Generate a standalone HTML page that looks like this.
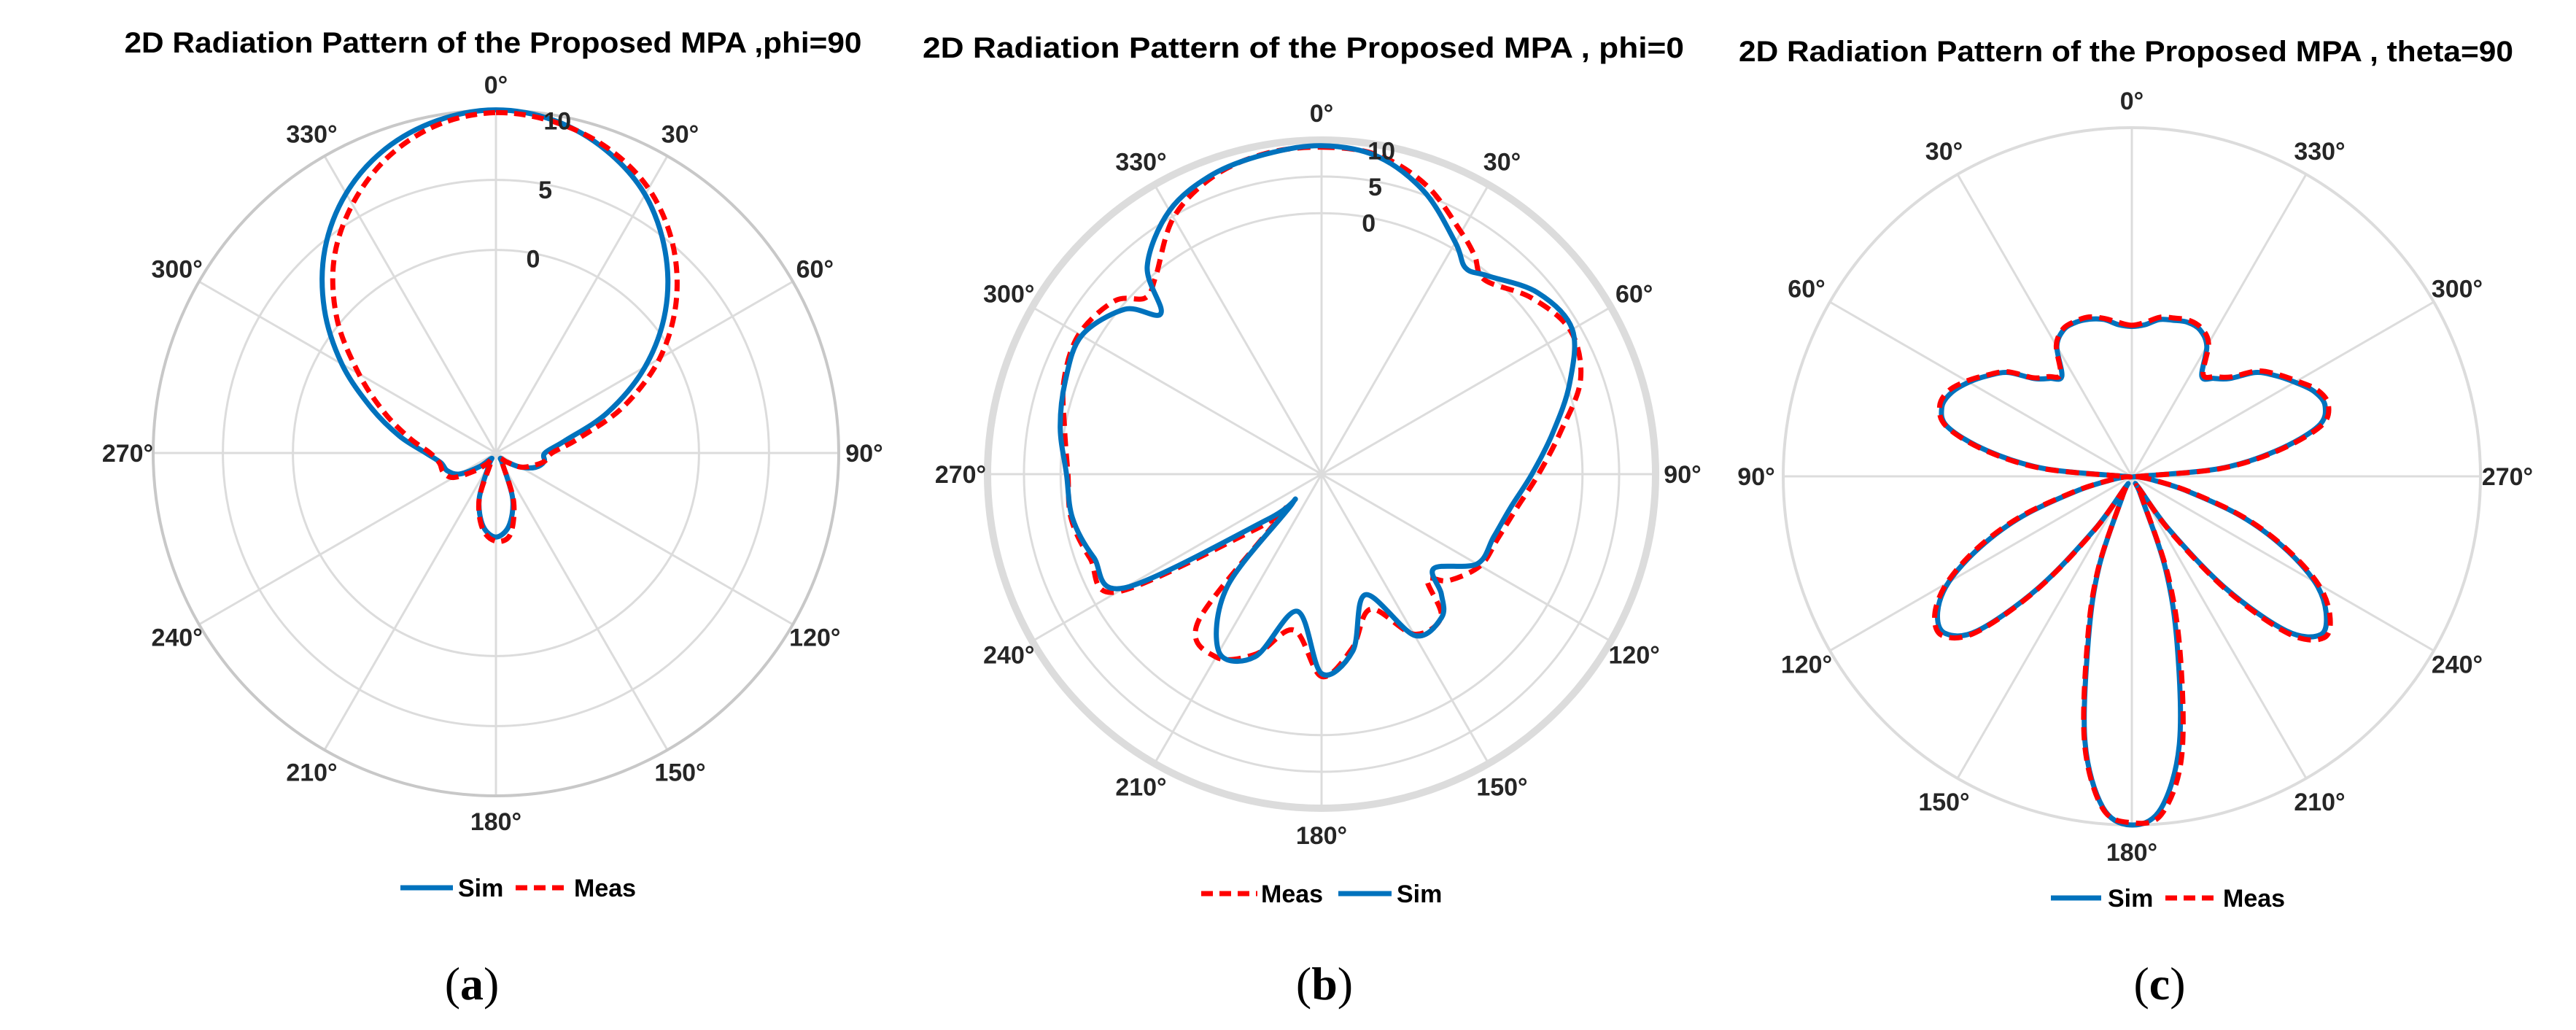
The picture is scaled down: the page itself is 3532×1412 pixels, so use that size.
<!DOCTYPE html>
<html><head><meta charset="utf-8"><style>
html,body{margin:0;padding:0;background:#fff;}
svg{display:block;}
text{font-family:"Liberation Sans",Arial,sans-serif;}
text.cap{font-family:"Liberation Serif","Times New Roman",serif;}
</style></head>
<body>
<svg id="fig" width="3532" height="1412" viewBox="0 0 3532 1412" xmlns="http://www.w3.org/2000/svg">
<g id="pa"></g>
<g id="pb"></g>
<g id="pc"></g>
</svg>
<script>
// ---- Panel (a) data: angle (deg, clockwise from top), gain dB ----
const A_ANG = [0,10,20,30,40,50,60,70,80,90,100,110,120,130,140,150,160,170,180,190,200,210,220,230,240,250,260,270,280,290,300,310,320,330,340,350];
const A_SIM = [10,9.6,8.5,6.8,4.3,1.3,-2.2,-6,-9.5,-11,-11,-11.5,-12.5,-13.5,-14,-13.5,-11,-9.2,-8.5,-9.2,-11,-13.5,-14,-13,-11.5,-10.8,-10.5,-9.5,-7.5,-5,-1.8,1.5,4.5,6.9,8.6,9.6];
const A_MEAS = [9.8,9.5,8.7,7.3,5.1,2.3,-1,-4.8,-8.5,-10.5,-11,-11.8,-12.5,-13.5,-14,-13.5,-10.8,-8.6,-8.2,-9,-11,-13.8,-13.5,-12.5,-11,-10.5,-10.4,-9.8,-8.2,-6,-3.2,0.3,3.5,6,8,9.3];
const A_RTICKS = [0,5];
const A_RLABELS = ["0","5","10"];
// ---- Panel (b) data ----
const B_ANG = [0,10,20,30,35,40,50,60,70,80,90,100,110,120,130,135,140,150,160,170,180,190,200,210,220,225,230,240,250,260,270,280,290,300,310,315,320,330,340,350];
const B_SIM = [9.2,8.4,5.4,0.9,-1.3,-0.3,2.9,3.9,0.4,-3.6,-6.9,-9.4,-10.6,-11.1,-15.6,-12.5,-10.1,-10.2,-18.1,-11.1,-8.4,-16.6,-9.1,-7.6,-15.6,-30,-26,-4.6,-2.5,-1.1,-0.8,0.6,1.6,2.2,-0.6,-4.6,1.4,5.9,7.9,8.7];
const B_MEAS = [9.0,8.6,6.3,2.5,0.8,-1.0,1.8,3.6,2.0,-2.5,-6.0,-8.6,-10.0,-10.6,-13.0,-15.2,-10.2,-10.4,-16.0,-11.5,-8.0,-14,-9.5,-6.8,-9.5,-28,-24,-3.5,-2.0,-0.9,-1.0,0.0,1.8,2.6,1.2,-1.6,-0.4,4.8,7.6,8.8];
const B_RTICKS = [0,5];
const B_RLABELS = ["0","5","10"];
// ---- Panel (c) data: angle counter-clockwise from top ----
const C_ANG = [0,5,10,15,20,25,30,35,40,45,50,55,60,65,70,75,80,85,90,95,100,105,110,115,120,125,130,135,140,145,150,155,160,165,170,175,180,185,190,195,200,205,210,215,220,225,230,235,240,245,250,255,260,265,270,275,280,285,290,295,300,305,310,315,320,325,330,335,340,345,350,355];
const C_SIM = [-17.1,-16.9,-16.3,-16.0,-15.9,-16.1,-17.1,-19.5,-19.0,-18.1,-16.1,-14.9,-13.8,-12.9,-12.6,-13.6,-17.4,-22.5,-29.4,-29.4,-28.1,-25,-20,-15.6,-11.8,-9.6,-9,-11.2,-17.4,-24.4,-29,-28.1,-21.8,-15.6,-6.8,-1.4,0,-1.3,-6.5,-14.9,-21.5,-28.1,-29,-24.4,-17.4,-11.2,-8.8,-9.6,-11.8,-15.6,-20,-25,-28.1,-29.4,-29.4,-22.5,-17.4,-13.4,-12.3,-12.7,-13.8,-14.9,-16.1,-18.1,-19,-19.5,-17.1,-16.1,-15.9,-16.1,-16.3,-16.9];
const C_MEAS = [-17.0,-16.7,-16.2,-15.8,-15.8,-16.0,-17.0,-19.3,-18.8,-18.0,-16.0,-14.8,-13.6,-12.6,-12.4,-13.5,-17.2,-22.3,-29.3,-29.3,-28.0,-24.8,-19.7,-15.3,-11.6,-9.3,-8.7,-11.0,-17.2,-24.2,-28.9,-28.0,-21.5,-15.2,-6.6,-1.3,-0.2,-0.8,-5.4,-13.8,-20.8,-27.8,-28.8,-24.0,-17.0,-10.8,-8.4,-9.2,-11.5,-15.4,-19.8,-24.8,-28.0,-29.3,-29.3,-22.3,-17.2,-13.1,-12.0,-12.4,-13.6,-14.7,-15.9,-17.9,-18.8,-19.3,-16.8,-15.9,-15.7,-15.9,-16.1,-16.7];
const ANG_TICKS = [0,30,60,90,120,150,180,210,240,270,300,330];

const NS = "http://www.w3.org/2000/svg";
function mk(parent, tag, attrs, txt){
  const el = document.createElementNS(NS, tag);
  for (const k in attrs) el.setAttribute(k, attrs[k]);
  if (txt !== undefined) el.textContent = txt;
  parent.appendChild(el);
  return el;
}
function polarXY(p, ang, r){
  const t = ang*Math.PI/180;
  const s = p.ccw ? -1 : 1;
  return [p.cx + s*r*Math.sin(t), p.cy - r*Math.cos(t)];
}
function pathFrom(p, angs, vals){
  const pts = angs.map((a,i)=>polarXY(p, a, Math.max(0, p.rs(vals[i]))));
  const n = pts.length;
  let d = "M"+pts[0][0].toFixed(1)+","+pts[0][1].toFixed(1);
  for (let i=0;i<n;i++){
    const p0=pts[(i-1+n)%n], p1=pts[i], p2=pts[(i+1)%n], p3=pts[(i+2)%n];
    const c1=[p1[0]+(p2[0]-p0[0])/6, p1[1]+(p2[1]-p0[1])/6];
    const c2=[p2[0]-(p3[0]-p1[0])/6, p2[1]-(p3[1]-p1[1])/6];
    d += " C"+c1[0].toFixed(1)+","+c1[1].toFixed(1)+" "+c2[0].toFixed(1)+","+c2[1].toFixed(1)+" "+p2[0].toFixed(1)+","+p2[1].toFixed(1);
  }
  return d+"Z";
}
function drawPanel(g, p){
  const t = mk(g,"text",{x:p.title[1],y:p.title[2],"font-size":40,"font-weight":"bold",fill:"#000","text-anchor":"middle",textLength:p.title[3],lengthAdjust:"spacingAndGlyphs"},p.title[0]);
  
  
  ANG_TICKS.forEach(a=>{
    const e = polarXY(p,a,p.R);
    const l = mk(g,"line",{x1:p.cx,y1:p.cy,x2:e[0],y2:e[1],stroke:"#dcdcdc","stroke-width":3});
    
    
  });
  p.rticks.forEach(v=>{
    const c = mk(g,"circle",{cx:p.cx,cy:p.cy,r:p.rs(v),fill:"none",stroke:"#dcdcdc","stroke-width":3});
    
    
  });
  const oc = mk(g,"circle",{cx:p.cx,cy:p.cy,r:p.R,fill:"none",stroke:p.outerCol,"stroke-width":p.outerW});
  
  
  ANG_TICKS.forEach(a=>{
    const q = polarXY(p,a,p.labR);
    const tl = mk(g,"text",{x:q[0],y:q[1]+12,"font-size":34,"font-weight":"bold",fill:"#262626","text-anchor":"middle"},a+"°");
    
    
  });
  p.series.forEach(s=>{
    const attrs = {d:pathFrom(p,p.ang,s.vals),fill:"none",stroke:s.col,"stroke-width":s.w,"stroke-linejoin":"round"};
    if (s.dash) attrs["stroke-dasharray"]=s.dash;
    const ps = mk(g,"path",attrs);
    
    
  });
  if (p.rlabels){
    p.rlabels.forEach((lab,i)=>{
      const v = [0,5,10][i];
      const q = polarXY(p,10,p.rs(v)-8);
      const rl = mk(g,"text",{x:q[0]+4,y:q[1]+12,"font-size":34,"font-weight":"bold",fill:"#262626","text-anchor":"middle"},lab);
      
      
    });
  }
  p.legend.forEach(L=>{
    const la = {x1:L.x1,y1:p.legY,x2:L.x2,y2:p.legY,stroke:L.col,"stroke-width":7};
    if (L.dash) la["stroke-dasharray"]=L.dash;
    const ll = mk(g,"line",la);
    
    
    const lt = mk(g,"text",{x:L.tx,y:p.legY+12,"font-size":34,"font-weight":"bold",fill:"#000"},L.label);
    
    
  });
  const cap = mk(g,"text",{x:p.cap[1],y:p.cap[2],"font-size":64,fill:"#000","text-anchor":"middle","class":"cap"});
  
  
  mk(cap,"tspan",{},"(");
  mk(cap,"tspan",{"font-weight":"bold"},p.cap[0]);
  mk(cap,"tspan",{},")");
}
const BLUE="#0072BD", RED="#FF0000";
drawPanel(document.getElementById("pa"),{
  cx:680, cy:621, R:470, ccw:false, rs:v=>(v+14.5)*19.2, rticks:A_RTICKS, rlabels:A_RLABELS,
  outerCol:"#c8c8c8", outerW:4, labR:505, ang:A_ANG,
  title:["2D Radiation Pattern of the Proposed MPA ,phi=90",676,72,1011],
  series:[{name:"sim",vals:A_SIM,col:BLUE,w:7},{name:"meas",vals:A_MEAS,col:RED,w:7,dash:"16 9"}],
  legY:1217,
  legend:[{name:"sim",x1:549,x2:621,col:BLUE,tx:628,label:"Sim"},{name:"meas",x1:707,x2:779,col:RED,dash:"16 9",tx:787,label:"Meas"}],
  cap:["a",647,1370]
});
drawPanel(document.getElementById("pb"),{
  cx:1812, cy:650, R:458, ccw:false, rs:v=>(v+35.6)*10.05, rticks:B_RTICKS, rlabels:B_RLABELS,
  outerCol:"#dcdcdc", outerW:10, labR:495, ang:B_ANG,
  title:["2D Radiation Pattern of the Proposed MPA , phi=0",1787,79,1044],
  series:[{name:"meas",vals:B_MEAS,col:RED,w:7,dash:"18 10"},{name:"sim",vals:B_SIM,col:BLUE,w:7}],
  legY:1225,
  legend:[{name:"meas",x1:1647,x2:1724,col:RED,dash:"16 9",tx:1729,label:"Meas"},{name:"sim",x1:1835,x2:1908,col:BLUE,tx:1915,label:"Sim"}],
  cap:["b",1816,1370]
});
drawPanel(document.getElementById("pc"),{
  cx:2923, cy:653, R:478, ccw:true, rs:v=>(v+30)/30*478, rticks:[], rlabels:null,
  outerCol:"#dcdcdc", outerW:4, labR:515, ang:C_ANG,
  title:["2D Radiation Pattern of the Proposed MPA , theta=90",2915,84,1062],
  series:[{name:"sim",vals:C_SIM,col:BLUE,w:7},{name:"meas",vals:C_MEAS,col:RED,w:7,dash:"18 10"}],
  legY:1231,
  legend:[{name:"sim",x1:2812,x2:2881,col:BLUE,tx:2890,label:"Sim"},{name:"meas",x1:2969,x2:3042,col:RED,dash:"16 9",tx:3048,label:"Meas"}],
  cap:["c",2961,1370]
});
</script>
</body></html>
